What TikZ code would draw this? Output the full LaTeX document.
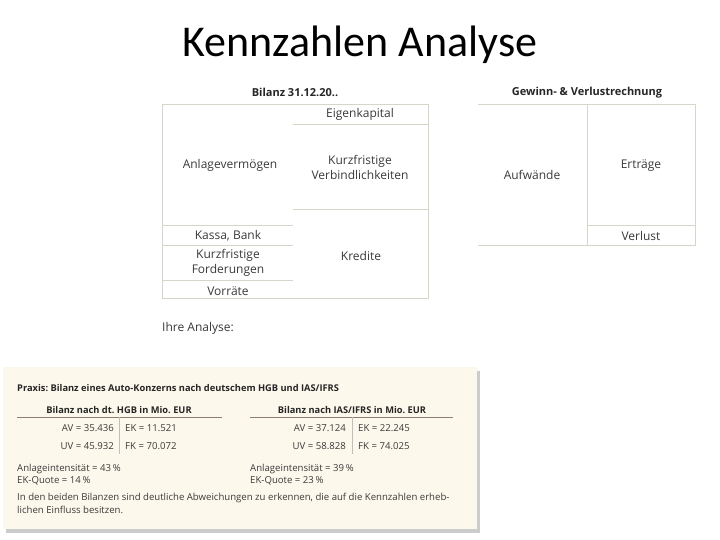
\documentclass[tikz,border=0pt]{standalone}
\usepackage{fontspec}
\setmainfont{Open Sans}
\newfontfamily\titlefont{Carlito}
\usetikzlibrary{shadows}
\frenchspacing

\definecolor{ink}{HTML}{3A3A3A}
\definecolor{gridline}{HTML}{D6D6C8}
\definecolor{cream}{HTML}{FDF8EC}
\definecolor{tabrule}{HTML}{8C8070}

\begin{document}
\begin{tikzpicture}[
  x=1pt, y=-1pt,
  cell/.style={font=\fontsize{12}{15}\selectfont, text=ink, align=center, inner sep=0pt},
  head/.style={font=\fontsize{11}{13}\selectfont\bfseries, text=black!85, inner sep=0pt},
  grid/.style={draw=gridline, line width=0.9pt},
  note/.style={font=\fontsize{9.6}{12.5}\selectfont, text=ink, inner sep=0pt, align=left},
  notehead/.style={font=\fontsize{9.3}{11}\selectfont\bfseries, text=black!85, inner sep=0pt},
  tabrule/.style={draw=tabrule, line width=0.8pt},
  tabsep/.style={draw=black!25, line width=0.6pt}
]

\useasboundingbox[fill=white] (0,0) rectangle (720,540);

% Title.
\node[font=\titlefont\fontsize{44}{50}\selectfont, text=black] (title) at (360,45) {Kennzahlen Analyse};

% Balance sheet (T-account).
\node[head] (bilanzTitle) at (295,92) {Bilanz 31.12.20..};
\draw[grid] (162,104) rectangle (428,298);
\draw[grid] (162,225) -- (293,225);
\draw[grid] (162,245) -- (293,245);
\draw[grid] (162,280) -- (293,280);
\draw[grid] (293,124) -- (428,124);
\draw[grid] (293,209) -- (428,209);

\node[cell] (anlage) at (230,165) {Anlagevermögen};
\node[cell] (kassa) at (228,236) {Kassa, Bank};
\node[cell] (forderungen) at (228,263) {Kurzfristige\\Forderungen};
\node[cell] (vorraete) at (228,291) {Vorräte};
\node[cell] (eigenkapital) at (360,114) {Eigenkapital};
\node[cell] (verbindlichkeiten) at (360,167) {Kurzfristige\\Verbindlichkeiten};
\node[cell] (kredite) at (361,256) {Kredite};

% Profit and loss account.
\node[head] (guvTitle) at (587,93) {Gewinn- \& Verlustrechnung};
\draw[grid] (478,104) -- (695,104) -- (695,245) -- (478,245);
\draw[grid] (587,104) -- (587,245);
\draw[grid] (587,225) -- (695,225);

\node[cell] (aufwaende) at (532,175) {Aufwände};
\node[cell] (ertraege) at (641,166) {Erträge};
\node[cell] (verlust) at (641,236) {Verlust};

\node[cell, anchor=west] (analyse) at (162,328) {Ihre Analyse:};

% Practice box.
\fill[cream, drop shadow={shadow xshift=3pt, shadow yshift=-4pt, fill=black, opacity=0.2}]
  (3,367) rectangle (477,529);

\node[notehead, anchor=west] (praxis) at (17,388)
  {Praxis: Bilanz eines Auto-Konzerns nach deutschem HGB und IAS/IFRS};

% HGB table.
\node[notehead] (hgbHead) at (119,410) {Bilanz nach dt. HGB in Mio. EUR};
\draw[tabrule] (17,417) -- (222,417);
\draw[tabsep] (119,417) -- (119,454);
\node[note, anchor=east] (hgbAV) at (114,428) {AV = 35.436};
\node[note, anchor=west] (hgbEK) at (125,428) {EK = 11.521};
\node[note, anchor=east] (hgbUV) at (114,446) {UV = 45.932};
\node[note, anchor=west] (hgbFK) at (125,446) {FK = 70.072};
\node[note, anchor=north west] (hgbKennzahlen) at (17,464)
  {Anlageintensität = 43\,\%\\EK-Quote = 14\,\%};

% IFRS table.
\node[notehead] (ifrsHead) at (352,410) {Bilanz nach IAS/IFRS in Mio. EUR};
\draw[tabrule] (250,417) -- (453,417);
\draw[tabsep] (352,417) -- (352,454);
\node[note, anchor=east] (ifrsAV) at (346,428) {AV = 37.124};
\node[note, anchor=west] (ifrsEK) at (358,428) {EK = 22.245};
\node[note, anchor=east] (ifrsUV) at (346,446) {UV = 58.828};
\node[note, anchor=west] (ifrsFK) at (358,446) {FK = 74.025};
\node[note, anchor=north west] (ifrsKennzahlen) at (250,464)
  {Anlageintensität = 39\,\%\\EK-Quote = 23\,\%};

\node[note, anchor=north west] (fazit) at (17,493)
  {In den beiden Bilanzen sind deutliche Abweichungen zu erkennen, die auf die Kennzahlen erheb-\\lichen Einfluss besitzen.};

\end{tikzpicture}
\end{document}
